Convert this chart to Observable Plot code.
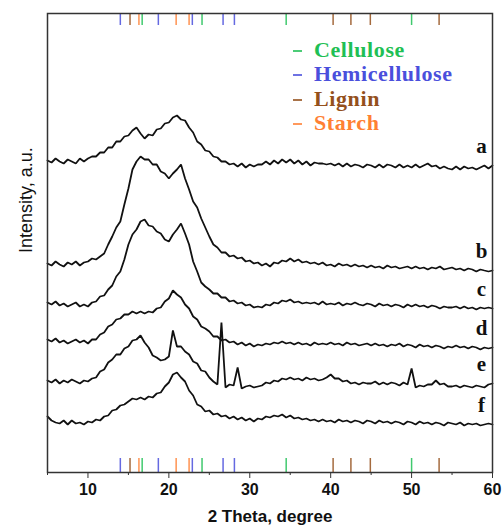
<!DOCTYPE html>
<html>
<head>
<meta charset="utf-8">
<script src="https://cdn.jsdelivr.net/npm/d3@7"></script>
<script src="https://cdn.jsdelivr.net/npm/@observablehq/plot@0.6"></script>
<style>
  html, body { margin: 0; padding: 0; background: #fff; }
  #wrap { position: relative; width: 502px; height: 530px; }
  #legend { position: absolute; left: 290px; top: 38px; font-family: "Liberation Serif", serif; font-weight: bold; font-size: 22px; letter-spacing: 0.6px; line-height: 24.3px; }
  #legend .row { white-space: nowrap; height: 24.3px; }
  #legend .dash { display: inline-block; width: 9px; height: 2px; vertical-align: middle; margin-right: 12px; margin-left: 3px; position: relative; top: -1px; opacity: 0.8; }
</style>
</head>
<body>
<div id="wrap"></div>
<script>
// X grid (2 Theta, degree), step 0.5 from 5 to 60
const theta = d3.range(5, 60.001, 0.5);

// Intensity (a.u.) of each sample, one value per theta
const curveA = [312,310,314,311,309,313,311,309,314,311, 314,316,316,320,320,325,325,331,331,336, 337,342,345,339,334,338,337,343,344,349, 350,355,357,353,352,345,340,331,328,322, 321,316,315,311,311,308,309,306,309,305, 308,306,308,308,311,308,312,309,313,310, 313,309,312,308,311,307,310,309,309,308, 309,307,309,306,309,306,308,307,305,308, 307,305,308,305,308,307,305,308,305,307, 305,308,305,307,309,306,307,304,306,304, 303,306,303,306,304,305,303,305,307,304, 307];
const curveB = [209,207,211,208,206,210,208,211,207,210, 211,214,213,216,219,228,236,245,251,268, 284,303,311,316,313,313,308,308,301,299, 294,299,303,308,294,283,271,265,254,245, 236,228,225,220,220,216,217,214,215,211, 212,209,210,207,209,206,210,209,212,211, 214,211,213,210,211,209,210,208,210,207, 208,206,209,207,208,206,208,206,207,205, 207,205,206,204,207,205,206,204,205,206, 204,206,204,205,203,205,204,206,203,204, 205,203,204,202,204,203,201,203,202,201, 202];
const curveC = [170,168,171,167,169,166,168,170,166,168, 166,170,171,176,177,183,187,196,201,213, 228,238,243,251,253,247,246,241,239,233, 231,238,243,249,239,228,211,201,190,186, 183,179,179,175,175,171,172,169,170,167, 168,165,166,165,168,167,170,169,172,171, 173,170,171,169,170,169,170,168,171,168, 169,168,170,167,169,168,170,168,167,169, 168,166,169,167,168,166,168,167,165,168, 166,168,166,167,165,167,166,164,166,165, 165,166,164,166,164,165,163,165,164,165, 164];
const curveD = [133,131,134,130,132,129,131,133,130,132, 129,133,133,138,140,146,148,153,154,158, 158,161,159,161,159,161,160,164,165,171, 174,182,178,175,168,164,156,153,146,144, 141,136,136,132,133,130,131,128,130,127, 129,126,128,127,129,128,130,129,131,129, 130,128,130,128,129,127,130,128,129,128, 130,128,129,127,130,128,129,127,128,129, 127,129,127,128,126,128,127,129,126,128, 127,125,128,126,127,125,127,126,124,126, 125,127,125,126,124,126,125,123,125,124, 125];
const curveE = [92,90,93,89,92,90,93,91,89,92, 91,94,95,101,103,110,113,118,118,124, 126,132,133,137,130,125,117,115,112,113, 116,142,126,126,121,118,111,109,102,101, 95,91,88,150,85,88,87,105,84,86, 87,85,86,87,90,89,92,91,94,93, 95,93,94,92,95,93,94,92,93,95, 98,94,94,91,92,89,90,88,90,89, 89,91,88,90,88,90,89,87,90,88, 104,85,87,86,88,88,92,88,89,86, 86,87,85,87,86,85,87,86,85,88, 89];
const curveF = [56,52,50,49,52,48,52,49,50,48, 51,50,53,52,56,57,62,63,67,68, 71,74,73,75,73,76,75,79,80,86, 90,98,100,95,91,82,77,68,66,61, 62,58,59,56,57,54,56,53,55,52, 54,51,54,53,56,55,57,56,58,55, 57,54,55,53,54,52,53,51,53,51, 52,50,53,51,52,50,52,51,49,52, 51,49,52,50,51,49,51,50,48,51, 50,48,51,49,50,48,50,49,47,50, 49,48,50,47,49,48,49,47,48,49, 48];

const sampleNames = ["a", "b", "c", "d", "e", "f"];
const sampleCurves = [curveA, curveB, curveC, curveD, curveE, curveF];

// Reference peak positions of the components (2 Theta, degree)
const cellulosePeaks = [16.7, 24.1, 34.5, 50.0];
const hemicellulosePeaks = [14.0, 18.7, 22.9, 26.7, 28.1];
const ligninPeaks = [15.2, 40.3, 42.5, 44.9, 53.4];
const starchPeaks = [16.3, 20.9, 22.5];

const componentNames = ["Cellulose", "Hemicellulose", "Lignin", "Starch"];
const componentPeaks = [cellulosePeaks, hemicellulosePeaks, ligninPeaks, starchPeaks];
const componentColors = ["#1fbf55", "#4a4fdc", "#94501c", "#ff8033"];

const xMajorTicks = [10, 20, 30, 40, 50, 60];
const xMinorTicks = [5, 15, 25, 35, 45, 55];

sampleCurves.forEach((c, i) => { if (c.length !== theta.length) throw new Error("length mismatch " + sampleNames[i] + " " + c.length); });

const rows = sampleCurves.flatMap((c, i) => c.map((v, j) => ({theta: theta[j], value: v, sample: sampleNames[i]})));
const ends = sampleCurves.map((c, i) => ({theta: theta[theta.length - 1], value: c[c.length - 1], sample: sampleNames[i]}));
const peaks = componentPeaks.flatMap((p, i) => p.map(t => ({theta: t, comp: componentNames[i]})));

const frameH = 459;
const chart = Plot.plot({
  width: 502,
  height: 530,
  marginLeft: 47,
  marginRight: 10,
  marginTop: 13,
  marginBottom: 58,
  style: {fontFamily: "'Liberation Sans', Arial, sans-serif", color: "#111", background: "#fff"},
  x: {domain: [5, 60]},
  y: {domain: [0, 459], axis: null},
  color: {domain: componentNames, range: componentColors},
  marks: [
    Plot.tickX(peaks, {x: "theta", stroke: "comp", strokeWidth: 1.5, strokeOpacity: 0.85, insetBottom: frameH - 12}),
    Plot.tickX(peaks, {x: "theta", stroke: "comp", strokeWidth: 1.5, strokeOpacity: 0.85, insetTop: frameH - 14}),
    Plot.line(rows, {x: "theta", y: "value", z: "sample", stroke: "#111", strokeWidth: 1.8, strokeLinejoin: "miter"}),
    Plot.text(ends, {x: "theta", y: "value", text: "sample", dx: -11, dy: -19, fontFamily: "'Liberation Serif', serif", fontWeight: "bold", fontSize: 21, fill: "#111"}),
    Plot.axisX({ticks: xMajorTicks, tickSize: 6, tickPadding: 5, fontSize: 16, fontWeight: "bold", label: null, stroke: "#333"}),
    Plot.axisX({ticks: xMinorTicks, tickSize: 3, tickFormat: () => "", label: null, stroke: "#333"}),
    Plot.frame({stroke: "#333", strokeWidth: 1.5}),
    Plot.text(["2 Theta, degree"], {frameAnchor: "bottom", dy: 49, fontSize: 17, fontWeight: "bold", fill: "#111"}),
    Plot.text(["Intensity, a.u."], {frameAnchor: "left", rotate: -90, dx: -21, dy: 10, fontSize: 18, fill: "#111"})
  ]
});

const wrap = document.getElementById("wrap");
wrap.appendChild(chart);
const legend = document.createElement("div");
legend.id = "legend";
componentNames.forEach((n, i) => {
  const row = document.createElement("div");
  row.className = "row";
  row.style.color = componentColors[i];
  const dash = document.createElement("span");
  dash.className = "dash";
  dash.style.background = componentColors[i];
  row.appendChild(dash);
  row.appendChild(document.createTextNode(n));
  legend.appendChild(row);
});
wrap.appendChild(legend);
</script>
</body>
</html>
